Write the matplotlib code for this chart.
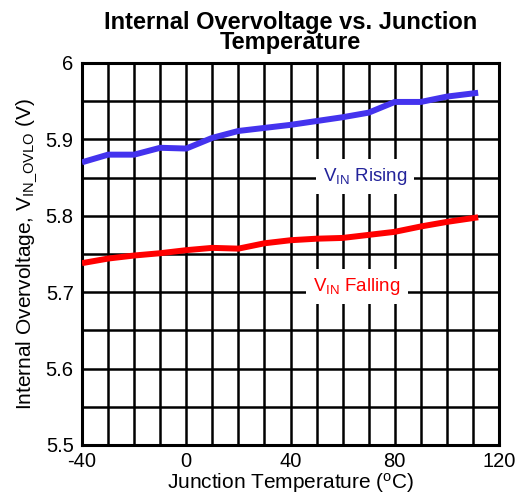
import numpy as np
import matplotlib
matplotlib.use('Agg')
import matplotlib.pyplot as plt
from matplotlib.ticker import MultipleLocator

plt.rcParams['font.family'] = ['Liberation Sans', 'DejaVu Sans']
plt.rcParams['mathtext.fontset'] = 'custom'
plt.rcParams['mathtext.rm'] = 'Liberation Sans'
plt.rcParams['mathtext.it'] = 'Liberation Sans:italic'
plt.rcParams['axes.unicode_minus'] = False

# junction temperature (C)
temp = [-40, -30, -20, -10, 0, 10, 20, 30, 40, 50, 60, 70, 80, 90, 100, 112]
# VIN rising threshold (V)
v_rising = [5.870, 5.880, 5.880, 5.889, 5.888, 5.902, 5.911, 5.915, 5.919,
            5.924, 5.929, 5.935, 5.949, 5.949, 5.956, 5.961]
# VIN falling threshold (V)
v_falling = [5.738, 5.744, 5.748, 5.751, 5.755, 5.758, 5.757, 5.764, 5.768,
             5.770, 5.771, 5.775, 5.779, 5.786, 5.792, 5.798]

fig = plt.figure(figsize=(5.27, 5.01), dpi=100)
ax = fig.add_axes([0.1556, 0.1118, 0.7913, 0.7625])

ax.plot(temp, v_rising, color='#4433ee', lw=4.3, solid_capstyle='butt', zorder=3)
ax.plot(temp, v_falling, color='#ff0000', lw=4.3, solid_capstyle='butt', zorder=3)

ax.set_xlim(-40, 120)
ax.set_ylim(5.5, 6.0)
ax.xaxis.set_major_locator(MultipleLocator(40))
ax.xaxis.set_minor_locator(MultipleLocator(10))
ax.yaxis.set_minor_locator(MultipleLocator(0.05))
ax.set_yticks([5.5, 5.6, 5.7, 5.8, 5.9, 6.0])
ax.set_yticklabels(['5.5', '5.6', '5.7', '5.8', '5.9', '6'])
ax.grid(which='both', color='black', lw=1.8)
ax.set_axisbelow(True)
ax.tick_params(which='both', length=0, labelsize=14.5)
ax.tick_params(axis='x', pad=5)
ax.tick_params(axis='y', pad=6)
for s in ax.spines.values():
    s.set_linewidth(2.2)

ax.text(68.5, 5.851, r'V$_{\mathrm{IN}}$ Rising', color='#22229a', fontsize=13.5,
        ha='center', va='center', zorder=4,
        bbox=dict(facecolor='white', edgecolor='none', pad=5))
ax.text(65.5, 5.707, r'V$_{\mathrm{IN}}$ Falling', color='#ff0000', fontsize=13.5,
        ha='center', va='center', zorder=4,
        bbox=dict(facecolor='white', edgecolor='none', pad=5))

ax.set_xlabel(r'Junction Temperature ($^{\mathrm{o}}$C)', fontsize=15, labelpad=0)
ax.set_ylabel(r'Internal Overvoltage, V$_{\mathrm{IN\_OVLO}}$ (V)', fontsize=15, labelpad=5)
ax.set_title('Internal Overvoltage vs. Junction\nTemperature', fontsize=17,
             fontweight='bold', linespacing=0.85, pad=10)

fig.savefig('out.png', dpi=100)
